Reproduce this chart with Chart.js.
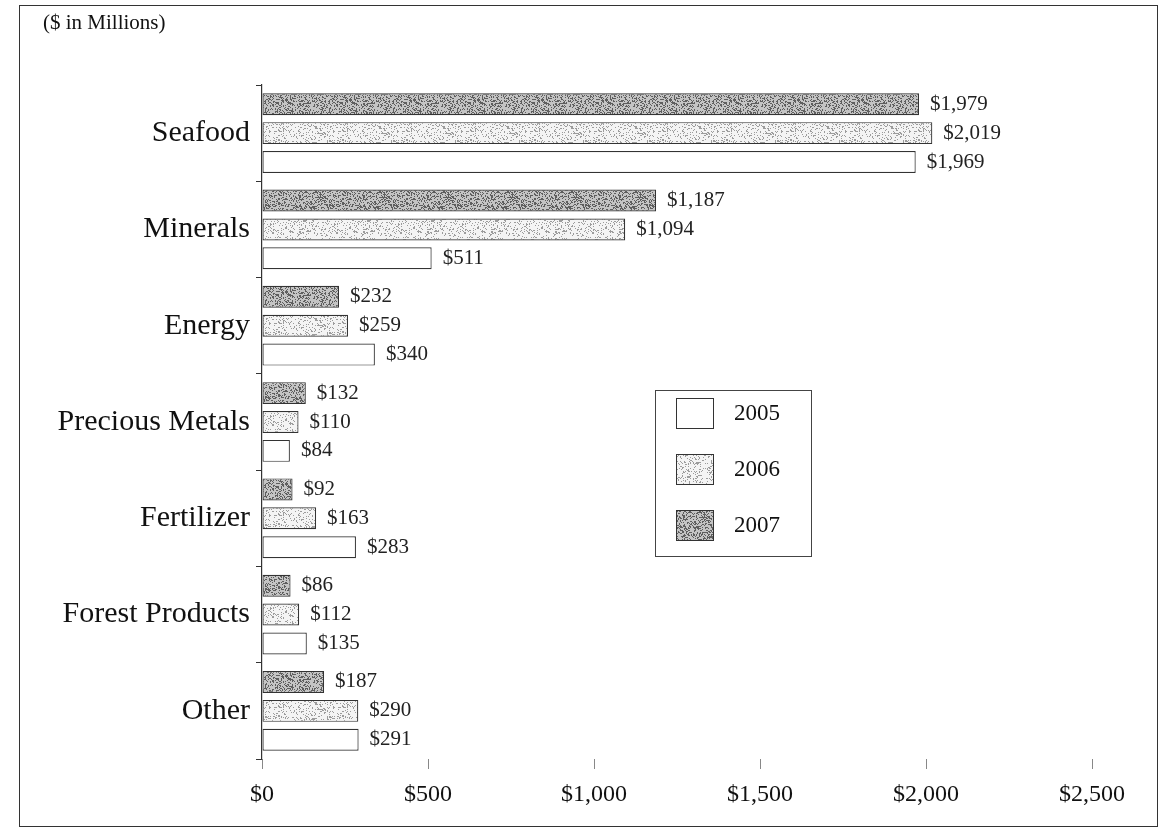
<!DOCTYPE html>
<html>
<head>
<meta charset="utf-8">
<script src="https://cdn.jsdelivr.net/npm/chart.js@4.4.1/dist/chart.umd.min.js"></script>
<style>
  html, body { margin: 0; padding: 0; background: #fff; }
  #wrap { position: relative; width: 1165px; height: 839px; }
  #frame {
    position: absolute; left: 19px; top: 5px; width: 1139px; height: 822px;
    border: 1px solid #333; box-sizing: border-box; pointer-events: none;
  }
  canvas { position: absolute; left: 0; top: 0; }
</style>
</head>
<body>
<div id="wrap">
  <canvas id="chart" width="1165" height="839"></canvas>
  <div id="frame"></div>
</div>
<script>
const categories = ["Seafood", "Minerals", "Energy", "Precious Metals", "Fertilizer", "Forest Products", "Other"];
const values2007 = [1979, 1187, 232, 132, 92, 86, 187];
const values2006 = [2019, 1094, 259, 110, 163, 112, 290];
const values2005 = [1969, 511, 340, 84, 283, 135, 291];
const xTicks = [0, 500, 1000, 1500, 2000, 2500];
const titleText = "($ in Millions)";

const serif = "'Liberation Serif', 'DejaVu Serif', serif";

// stipple texture like the scanned print, built from a fixed hash (no randomness)
function stipple(base, dot, density) {
  const c = document.createElement('canvas');
  c.width = 64; c.height = 64;
  const g = c.getContext('2d');
  g.fillStyle = base;
  g.fillRect(0, 0, 64, 64);
  g.fillStyle = dot;
  for (let y = 0; y < 64; y++) {
    for (let x = 0; x < 64; x++) {
      const h = Math.sin(x * 12.9898 + y * 78.233) * 43758.5453;
      if (h - Math.floor(h) < density) g.fillRect(x, y, 1, 1);
    }
  }
  return g.createPattern(c, 'repeat');
}

const fill2007 = stipple('#c4c4c4', '#5e5e5e', 0.36);
const fill2006 = stipple('#f4f4f4', '#9c9c9c', 0.2);
const fill2005 = '#ffffff';

function money(v) {
  return '$' + v.toLocaleString('en-US');
}

const valueLabels = {
  id: 'valueLabels',
  afterDatasetsDraw(chart) {
    const ctx = chart.ctx;
    ctx.save();
    ctx.font = '21px ' + serif;
    ctx.fillStyle = '#222';
    ctx.textBaseline = 'middle';
    ctx.textAlign = 'left';
    chart.data.datasets.forEach((ds, i) => {
      chart.getDatasetMeta(i).data.forEach((bar, j) => {
        ctx.fillText(money(ds.data[j]), bar.x + 11, bar.y);
      });
    });
    ctx.restore();
  }
};

const titleAndLegend = {
  id: 'titleAndLegend',
  afterDraw(chart) {
    const ctx = chart.ctx;
    ctx.save();
    ctx.fillStyle = '#111';
    ctx.font = '21px ' + serif;
    ctx.textBaseline = 'middle';
    ctx.fillText(titleText, 43, 23);

    // legend box, 2005 on top
    ctx.strokeStyle = '#444';
    ctx.lineWidth = 1;
    ctx.strokeRect(655.5, 390.5, 156, 166);
    const order = chart.data.datasets.slice().reverse();
    ctx.font = '23px ' + serif;
    order.forEach((ds, k) => {
      const y = 398 + k * 56;
      ctx.fillStyle = ds.backgroundColor;
      ctx.fillRect(676, y, 37, 30);
      ctx.strokeStyle = '#333';
      ctx.strokeRect(676.5, y + 0.5, 37, 30);
      ctx.fillStyle = '#111';
      ctx.fillText(ds.label, 734, y + 16);
    });
    ctx.restore();
  }
};

new Chart(document.getElementById('chart').getContext('2d'), {
  type: 'bar',
  data: {
    labels: categories,
    datasets: [
      { label: '2007', data: values2007, backgroundColor: fill2007 },
      { label: '2006', data: values2006, backgroundColor: fill2006 },
      { label: '2005', data: values2005, backgroundColor: fill2005 }
    ].map(d => Object.assign(d, {
      borderColor: '#333',
      borderWidth: 1.2,
      borderSkipped: false,
      barPercentage: 0.76,
      categoryPercentage: 0.9
    }))
  },
  options: {
    indexAxis: 'y',
    responsive: false,
    animation: false,
    layout: { padding: { left: 0, right: 73, top: 85, bottom: 20 } },
    plugins: {
      legend: { display: false },
      title: { display: false },
      tooltip: { enabled: false }
    },
    scales: {
      x: {
        min: 0,
        max: 2500,
        afterBuildTicks: s => { s.ticks = xTicks.map(v => ({ value: v })); },
        afterFit: s => { s.height = 60; },
        border: { display: false },
        grid: { drawOnChartArea: false, tickLength: 10, color: '#888' },
        ticks: {
          padding: 11,
          color: '#111',
          font: { family: serif, size: 24 },
          callback: v => money(v)
        }
      },
      y: {
        afterFit: s => { s.width = 262; },
        border: { display: true, color: '#333', width: 1.2 },
        grid: { drawOnChartArea: false, offset: true, tickLength: 6, color: '#333' },
        ticks: {
          padding: 6,
          color: '#111',
          font: { family: serif, size: 30 }
        }
      }
    }
  },
  plugins: [valueLabels, titleAndLegend]
});
</script>
</body>
</html>
